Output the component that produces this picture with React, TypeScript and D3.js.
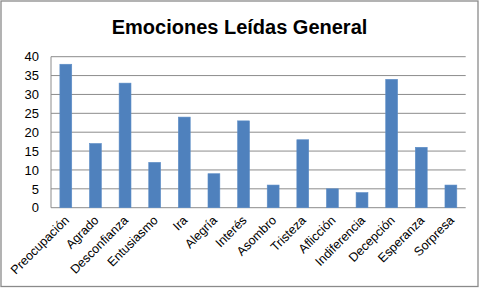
import React from "react";
import * as d3 from "d3";

const categories = [
  "Preocupación", "Agrado", "Desconfianza", "Entusiasmo", "Ira", "Alegría", "Interés",
  "Asombro", "Tristeza", "Aflicción", "Indiferencia", "Decepción", "Esperanza", "Sorpresa",
];
const values = [38, 17, 33, 12, 24, 9, 23, 6, 18, 5, 4, 34, 16, 6];
const yTicks = [0, 5, 10, 15, 20, 25, 30, 35, 40];
const title = "Emociones Leídas General";

const W = 481;
const H = 289;
const plot = { left: 51, right: 465.7, top: 56.7, bottom: 207.7 };

export default function App() {
  const x = d3
    .scaleBand<string>()
    .domain(categories)
    .range([plot.left, plot.right])
    .paddingInner(0.6)
    .paddingOuter(0.3);
  const y = d3.scaleLinear().domain([0, 40]).range([plot.bottom, plot.top]);
  const font = "'Liberation Sans', Arial, sans-serif";

  return (
    <svg
      width={W}
      height={H}
      style={{ position: "absolute", left: 0, top: 0, background: "#fff" }}
      fontFamily={font}
    >
      <rect x={1} y={1} width={477} height={285.5} fill="#fff" stroke="#8a8a8a" strokeWidth={1.3} />
      <text
        x={239.5}
        y={34}
        textAnchor="middle"
        fontSize={20}
        fontWeight="bold"
        fill="#000"
      >
        {title}
      </text>
      {yTicks.map((t) => (
        <g key={t}>
          <line
            x1={plot.left}
            x2={plot.right}
            y1={y(t)}
            y2={y(t)}
            stroke="#8c8c8c"
            strokeWidth={1}
          />
          <text
            x={plot.left - 12}
            y={y(t)}
            dy="0.36em"
            textAnchor="end"
            fontSize={13}
            fill="#000"
          >
            {t}
          </text>
        </g>
      ))}
      <line x1={plot.left} x2={plot.left} y1={plot.top} y2={plot.bottom} stroke="#8c8c8c" strokeWidth={1} />
      {categories.map((c, i) => (
        <rect
          key={c}
          x={x(c)}
          y={y(values[i])}
          width={x.bandwidth()}
          height={y(0) - y(values[i])}
          fill="#4F81BD"
          stroke="#5b8cc6"
          strokeWidth={0.6}
        />
      ))}
      {categories.map((c) => {
        const cx = (x(c) as number) + x.bandwidth() / 2 + 4;
        const cy = 221;
        return (
          <text
            key={"l" + c}
            x={cx}
            y={cy}
            transform={`rotate(-45, ${cx}, ${cy})`}
            textAnchor="end"
            fontSize={12.5}
            fill="#000"
          >
            {c}
          </text>
        );
      })}
    </svg>
  );
}
